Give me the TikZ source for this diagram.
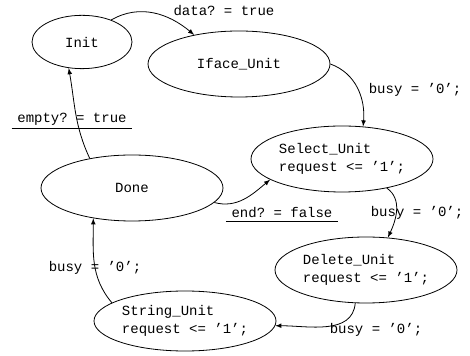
\documentclass[tikz,border=0pt]{standalone}
\usepackage{fontspec}
\setmonofont{Liberation Mono}
\usetikzlibrary{shapes.geometric}
\begin{document}
\begin{tikzpicture}
      [
      x=0.75pt,y=0.75pt,line width=0.6pt,
      every node/.style={font=\ttfamily\fontsize{10.5}{13.5}\selectfont},
      state/.style={ellipse,draw,inner sep=0pt,minimum width=136.5pt,minimum height=49.5pt,align=left},
      small/.style={ellipse,draw,inner sep=0pt,minimum width=75pt,minimum height=40pt},
      guard/.style={inner xsep=4pt,inner ysep=2pt,append after command={(\tikzlastnode.south west) edge (\tikzlastnode.south east)}}
      ]
      \useasboundingbox (0,0) rectangle (470,356);
      \node (init) at (82,314) [small] {Init};
      \node (iface) at (239,292) [state] {Iface\_Unit};
      \node (select) at (342,197) [state] {Select\_Unit\\request <= ’1’;};
      \node (done) at (132,168) [state] {Done};
      \node (delete) at (366,86) [state] {Delete\_Unit\\request <= ’1’;};
      \node (string) at (185,35) [state,minimum height=45pt] {String\_Unit\\request <= ’1’;};
      \node (t0) at (224,345) {data? = true};
      \node (t1) at (415,266) {busy = ’0’;};
      \node (t2) at (72,237) [guard] {empty? = true};
      \node (t3) at (282,143) [guard] {end? = false};
      \node (t4) at (417,143) {busy = ’0’;};
      \node (t5) at (376,26) {busy = ’0’;};
      \node (t6) at (95,88) {busy = ’0’;};
      \draw [-latex] (init.37) to[out=30,in=140] (iface.147);
      \draw [-latex] (iface.east) to[out=-20,in=85] (select.57);
      \draw [-latex] (select.-33) to[out=-35,in=65] (delete.56);
      \draw [-latex] (delete.-108) to[out=-95,in=0] (string.-3);
      \draw [-latex] (string.166) to[out=130,in=-90] (done.-142);
      \draw [-latex] (done.145) to[out=115,in=-80] (init.-117);
      \draw [-latex] (done.-10) to[out=-15,in=-140] (select.196);
    \end{tikzpicture}
\end{document}
